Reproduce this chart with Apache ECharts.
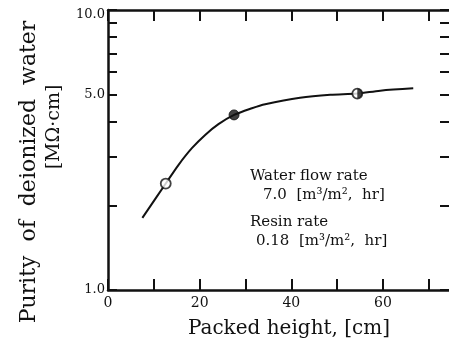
<!DOCTYPE html>
<html>
<head>
<meta charset="utf-8">
<script src="https://cdn.jsdelivr.net/npm/echarts@6/dist/echarts.min.js"></script>
<style>
  html, body { margin: 0; padding: 0; background: #fff; }
  #chart { width: 449px; height: 350px; }
</style>
</head>
<body>
<div id="chart"></div>
<script>
// Purity of deionized water versus packed resin height
const curveHeight = [7.5, 12.6, 15.4, 18.3, 21.2, 24.1, 27.5, 31.4, 34.3, 41.9, 48.5, 54.4, 59.4, 66.6];
const curvePurity = [1.81, 2.40, 2.80, 3.21, 3.58, 3.91, 4.22, 4.46, 4.61, 4.86, 4.98, 5.03, 5.15, 5.25];

const openPoint = [12.6, 2.40];
const filledPoint = [27.5, 4.22];
const halfPoint = [54.4, 5.03];

const xLabelValues = [0, 20, 40, 60];
const xTickValues = [0, 10, 20, 30, 40, 50, 60, 70];
const yLabelValues = [1, 5, 10];
const yTickValues = [1, 2, 3, 4, 5, 6, 7, 8, 9, 10];

const serif = 'DejaVu Serif';
const ink = '#111';

const chart = echarts.init(document.getElementById('chart'), null, { renderer: 'canvas' });

const xBase = {
  type: 'value', min: 0, max: 74.4,
  splitLine: { show: false },
  axisLine: { show: true, onZero: false, lineStyle: { color: ink, width: 2.5 } },
  axisTick: { show: true, inside: true, length: 11, customValues: xTickValues, lineStyle: { color: ink, width: 2 } }
};
const yBase = {
  type: 'log', logBase: 10, min: 1, max: 10,
  splitLine: { show: false },
  minorTick: { show: false },
  axisLine: { show: true, onZero: false, lineStyle: { color: ink, width: 2.5 } },
  axisTick: { show: true, inside: true, length: 9, customValues: yTickValues, lineStyle: { color: ink, width: 2 } }
};

chart.setOption({
  animation: false,
  backgroundColor: '#fff',
  grid: { left: 108, top: 10, bottom: 60, right: 0, containLabel: false },
  xAxis: [
    Object.assign({}, xBase, {
      position: 'bottom',
      axisLabel: {
        show: true, customValues: xLabelValues, margin: 6,
        fontFamily: serif, fontSize: 14, color: ink
      }
    }),
    Object.assign({}, xBase, { position: 'top', axisLabel: { show: false } })
  ],
  yAxis: [
    Object.assign({}, yBase, {
      position: 'left',
      axisLabel: {
        show: true, customValues: yLabelValues, margin: 3,
        fontFamily: serif, fontSize: 13, color: ink,
        // the top label sits just below the frame corner
        formatter: v => (Number(v) >= 10 ? '{top|' + Number(v).toFixed(1) + '}' : Number(v).toFixed(1)),
        rich: { top: { fontFamily: serif, fontSize: 13, color: ink, padding: [10, 0, 0, 0] } }
      }
    }),
    Object.assign({}, yBase, {
      position: 'right',
      // the right frame edge falls on the page border; only its ticks show
      axisLine: { show: true, onZero: false, lineStyle: { color: ink, width: 2.5, opacity: 0 } },
      axisTick: { show: true, inside: true, length: 9, customValues: yTickValues, lineStyle: { color: ink, width: 2, opacity: 1 } },
      axisLabel: { show: false }
    })
  ],
  series: [
    {
      type: 'line', smooth: 0.3, showSymbol: false,
      data: curveHeight.map((h, i) => [h, curvePurity[i]]),
      lineStyle: { color: ink, width: 2 }, z: 2
    },
    {
      type: 'scatter', data: [openPoint, halfPoint], symbol: 'circle', symbolSize: 10,
      itemStyle: { color: '#fff', borderColor: ink, borderWidth: 1.8 }, z: 3
    },
    {
      type: 'scatter', data: [filledPoint], symbol: 'circle', symbolSize: 10,
      itemStyle: { color: ink, borderColor: ink, borderWidth: 1 }, z: 3
    },
    {
      // right half of the half-filled marker
      type: 'scatter', data: [halfPoint],
      symbol: 'path://M0,0 A1,1 0 0 1 0,2 Z', symbolSize: [5, 10], symbolOffset: [2.5, 0],
      itemStyle: { color: ink }, z: 4
    }
  ],
  graphic: [
    {
      type: 'text', x: 289, y: 329,
      style: { text: 'Packed height, [cm]', fontFamily: serif, fontSize: 20, fill: ink, align: 'center', verticalAlign: 'middle' }
    },
    {
      type: 'text', x: 29, y: 172, rotation: Math.PI / 2,
      style: { text: 'Purity  of  deionized  water', fontFamily: serif, fontSize: 22, fill: ink, align: 'center', verticalAlign: 'middle' }
    },
    {
      type: 'text', x: 54, y: 127, rotation: Math.PI / 2,
      style: { text: '[MΩ·cm]', fontFamily: serif, fontSize: 19, fill: ink, align: 'center', verticalAlign: 'middle' }
    },
    {
      type: 'text', x: 250, y: 176,
      style: { text: 'Water flow rate', fontFamily: serif, fontSize: 15, fill: ink, verticalAlign: 'middle' }
    },
    {
      type: 'text', x: 263, y: 195,
      style: { text: '7.0  [m³/m²,  hr]', fontFamily: serif, fontSize: 15, fill: ink, verticalAlign: 'middle' }
    },
    {
      type: 'text', x: 250, y: 222,
      style: { text: 'Resin rate', fontFamily: serif, fontSize: 15, fill: ink, verticalAlign: 'middle' }
    },
    {
      type: 'text', x: 256, y: 241,
      style: { text: '0.18  [m³/m²,  hr]', fontFamily: serif, fontSize: 15, fill: ink, verticalAlign: 'middle' }
    }
  ]
});
</script>
</body>
</html>
